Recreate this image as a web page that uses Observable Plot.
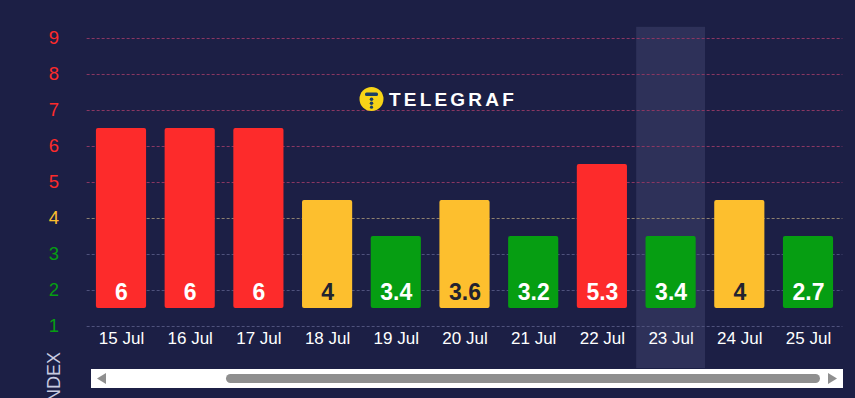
<!DOCTYPE html>
<html>
<head>
<meta charset="utf-8">
<script src="https://cdn.jsdelivr.net/npm/d3@7"></script>
<script src="https://cdn.jsdelivr.net/npm/@observablehq/plot@0.6"></script>
<style>
  html, body { margin: 0; padding: 0; background: #1c1f45; }
  #wrap { position: relative; width: 855px; height: 398px; overflow: hidden; background: #1c1f45; font-family: "Liberation Sans", Arial, sans-serif; }
  #chart { position: absolute; left: 0; top: 0; }
  #logo { position: absolute; left: 358px; top: 85px; }
  #scroll { position: absolute; left: 91px; top: 369px; width: 752px; height: 19px; background: #ffffff; }
  #thumb { position: absolute; left: 135px; top: 5px; width: 594px; height: 9px; border-radius: 5px; background: #8f8f8f; }
  #index { position: absolute; left: 0; top: 0; }
</style>
</head>
<body>
<div id="wrap">
  <div id="chart"></div>
  <svg id="logo" width="170" height="30">
    <circle cx="13.5" cy="14" r="12" fill="#f7d417"/>
    <rect x="7" y="7.5" width="13" height="3.4" rx="1.5" fill="#1c3f66"/>
    <circle cx="13.5" cy="14.3" r="1.8" fill="#1c3f66"/>
    <circle cx="13.5" cy="18.3" r="1.8" fill="#1c3f66"/>
    <circle cx="13.5" cy="22.2" r="1.6" fill="#1c3f66"/>
    <text x="31" y="21" fill="#ffffff" font-family="Liberation Sans, Arial, sans-serif" font-weight="bold" font-size="19" letter-spacing="3.2">TELEGRAF</text>
  </svg>
  <div id="scroll">
    <div id="thumb"></div>
    <svg width="752" height="19" style="position:absolute;left:0;top:0">
      <path d="M6,9.5 L15,4 L15,15 Z" fill="#8f8f8f"/>
      <path d="M746,9.5 L737,4 L737,15 Z" fill="#8f8f8f"/>
    </svg>
  </div>
  <svg id="index" width="100" height="398">
    <text transform="translate(60,352) rotate(-90)" text-anchor="end" fill="#c9cbe0" font-family="Liberation Sans, Arial, sans-serif" font-size="18">INDEX</text>
  </svg>
</div>
<script>
// ---- data ----
const dates = ["15 Jul","16 Jul","17 Jul","18 Jul","19 Jul","20 Jul","21 Jul","22 Jul","23 Jul","24 Jul","25 Jul"];
const values = [6, 6, 6, 4, 3.4, 3.6, 3.2, 5.3, 3.4, 4, 2.7];
const barTops = [6.5, 6.5, 6.5, 4.5, 3.5, 4.5, 3.5, 5.5, 3.5, 4.5, 3.5];
const levels = ["high","high","high","moderate","low","moderate","low","high","low","moderate","low"];
const yTicks = [1, 2, 3, 4, 5, 6, 7, 8, 9];
const tickLevels = ["low","low","low","moderate","high","high","high","high","high"];
const highlighted = ["23 Jul"];
const barBase = 1.5;

const data = dates.map((d, i) => ({date: d, value: values[i], top: barTops[i], level: levels[i]}));
const ticks = yTicks.map((t, i) => ({t, level: tickLevels[i]}));

const chart = Plot.plot({
  width: 855,
  height: 398,
  marginLeft: 86.65,
  marginRight: 12.65,
  marginTop: 38,
  marginBottom: 72,
  style: {background: "transparent", fontFamily: "Liberation Sans, Arial, sans-serif", overflow: "visible"},
  x: {domain: dates, paddingInner: 0.27, paddingOuter: 0.135, round: false},
  y: {domain: [1, 9], axis: null},
  color: {domain: ["low", "moderate", "high"], range: ["#069e12", "#fdbf2e", "#fd2b2b"]},
  marks: [
    Plot.barY(highlighted, {x: d => d, y1: -0.17, y2: 9.31, fill: "#2e3159", insetLeft: -9.35, insetRight: -9.35}),
    Plot.ruleY(ticks.filter(d => d.level === "high"), {y: "t", stroke: "#8a3762", strokeDasharray: "3,2", strokeWidth: 1}),
    Plot.ruleY(ticks.filter(d => d.level === "moderate"), {y: "t", stroke: "#8e8070", strokeDasharray: "3,2", strokeWidth: 1}),
    Plot.ruleY(ticks.filter(d => d.level === "low"), {y: "t", stroke: "#4f527c", strokeDasharray: "3,2", strokeWidth: 1}),
    Plot.text(ticks, {y: "t", text: d => String(d.t), frameAnchor: "left", dx: -28, textAnchor: "end", fill: "level", fontSize: 18.5}),
    Plot.barY(data, {x: "date", y1: barBase, y2: "top", fill: "level", rx: 2}),
    Plot.text(data.filter(d => d.level !== "moderate"), {x: "date", y: barBase, dy: -16, text: d => String(d.value), fill: "#ffffff", fontSize: 23, fontWeight: "bold"}),
    Plot.text(data.filter(d => d.level === "moderate"), {x: "date", y: barBase, dy: -16, text: d => String(d.value), fill: "#222230", fontSize: 23, fontWeight: "bold"}),
    Plot.axisX({tickSize: 0, tickPadding: 5, fontSize: 17, fill: "#ffffff", label: null})
  ]
});
document.getElementById("chart").appendChild(chart);
</script>
</body>
</html>
